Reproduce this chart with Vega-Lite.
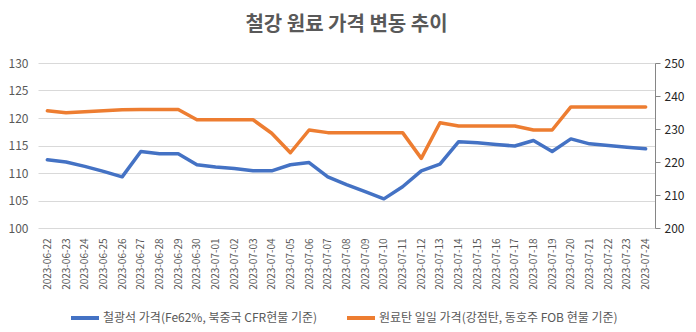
{
  "$schema": "https://vega.github.io/schema/vega-lite/v6.json",
  "width": 617,
  "height": 165,
  "autosize": "none",
  "padding": {"left": 38, "top": 63, "right": 41, "bottom": 104},
  "background": "white",
  "title": {"text": "철강 원료 가격 변동 추이", "fontSize": 20, "fontWeight": "bold", "color": "#595959", "font": "Noto Sans CJK KR", "anchor": "middle", "offset": 22},
  "config": {
    "view": {"stroke": null},
    "font": "Noto Sans CJK KR",
    "axis": {"labelFont": "Noto Sans CJK KR", "labelColor": "#595959", "labelFontSize": 12, "gridColor": "#d9d9d9", "domainColor": "#d9d9d9", "tickColor": "#868686"}
  },
  "data": {"values": [
    {"date": "2023-06-22", "iron": 112.4, "coal": 235.5},
    {"date": "2023-06-23", "iron": 112.0, "coal": 234.9},
    {"date": "2023-06-24", "iron": 111.2, "coal": 235.2},
    {"date": "2023-06-25", "iron": 110.3, "coal": 235.5},
    {"date": "2023-06-26", "iron": 109.3, "coal": 235.8},
    {"date": "2023-06-27", "iron": 113.9, "coal": 235.9},
    {"date": "2023-06-28", "iron": 113.5, "coal": 235.9},
    {"date": "2023-06-29", "iron": 113.5, "coal": 235.9},
    {"date": "2023-06-30", "iron": 111.5, "coal": 232.8},
    {"date": "2023-07-01", "iron": 111.1, "coal": 232.8},
    {"date": "2023-07-02", "iron": 110.8, "coal": 232.8},
    {"date": "2023-07-03", "iron": 110.4, "coal": 232.8},
    {"date": "2023-07-04", "iron": 110.4, "coal": 228.7},
    {"date": "2023-07-05", "iron": 111.5, "coal": 222.8},
    {"date": "2023-07-06", "iron": 111.9, "coal": 229.7},
    {"date": "2023-07-07", "iron": 109.3, "coal": 228.9},
    {"date": "2023-07-08", "iron": 107.9, "coal": 228.9},
    {"date": "2023-07-09", "iron": 106.6, "coal": 228.9},
    {"date": "2023-07-10", "iron": 105.3, "coal": 228.9},
    {"date": "2023-07-11", "iron": 107.5, "coal": 228.9},
    {"date": "2023-07-12", "iron": 110.4, "coal": 221.1},
    {"date": "2023-07-13", "iron": 111.6, "coal": 231.9},
    {"date": "2023-07-14", "iron": 115.7, "coal": 230.9},
    {"date": "2023-07-15", "iron": 115.5, "coal": 230.9},
    {"date": "2023-07-16", "iron": 115.2, "coal": 230.9},
    {"date": "2023-07-17", "iron": 114.9, "coal": 230.9},
    {"date": "2023-07-18", "iron": 115.9, "coal": 229.7},
    {"date": "2023-07-19", "iron": 113.9, "coal": 229.7},
    {"date": "2023-07-20", "iron": 116.2, "coal": 236.7},
    {"date": "2023-07-21", "iron": 115.3, "coal": 236.7},
    {"date": "2023-07-22", "iron": 115.0, "coal": 236.7},
    {"date": "2023-07-23", "iron": 114.7, "coal": 236.7},
    {"date": "2023-07-24", "iron": 114.4, "coal": 236.7}
  ]},
  "encoding": {
    "x": {"field": "date", "type": "ordinal", "scale": {"type": "point", "padding": 0.5},
      "axis": {"title": null, "labelAngle": -90, "labelFontSize": 10, "ticks": false, "domain": false, "labelPadding": 10}}
  },
  "layer": [
    {
      "mark": {"type": "line", "strokeWidth": 3.5, "strokeJoin": "round", "strokeCap": "round"},
      "encoding": {
        "y": {"field": "iron", "type": "quantitative", "scale": {"domain": [100, 130], "nice": false, "zero": false},
          "axis": {"title": null, "values": [100, 105, 110, 115, 120, 125, 130], "domain": false, "ticks": false, "labelPadding": 10}},
        "color": {"datum": "철광석 가격(Fe62%, 북중국 CFR현물 기준)", "type": "nominal",
          "scale": {"domain": ["철광석 가격(Fe62%, 북중국 CFR현물 기준)", "원료탄 일일 가격(강점탄, 동호주 FOB 현물 기준)"], "range": ["#4472C4", "#ED7D31"]},
          "legend": {"title": null, "orient": "none", "legendX": 31, "legendY": 239, "direction": "horizontal", "gridAlign": "none", "symbolType": "stroke", "symbolStrokeWidth": 4, "symbolSize": 784, "labelFontSize": 12, "labelOffset": 2, "labelColor": "#595959", "columnPadding": 21, "labelLimit": 400}}
      }
    },
    {
      "mark": {"type": "line", "strokeWidth": 3.5, "strokeJoin": "round", "strokeCap": "round"},
      "encoding": {
        "y": {"field": "coal", "type": "quantitative", "scale": {"domain": [200, 250], "nice": false, "zero": false},
          "axis": {"title": null, "orient": "right", "values": [200, 210, 220, 230, 240, 250], "grid": false, "domain": true, "domainColor": "#868686", "ticks": true, "tickSize": 5, "labelColor": "#262626", "labelPadding": 4}},
        "color": {"datum": "원료탄 일일 가격(강점탄, 동호주 FOB 현물 기준)", "type": "nominal"}
      }
    }
  ],
  "resolve": {"scale": {"y": "independent"}}
}
